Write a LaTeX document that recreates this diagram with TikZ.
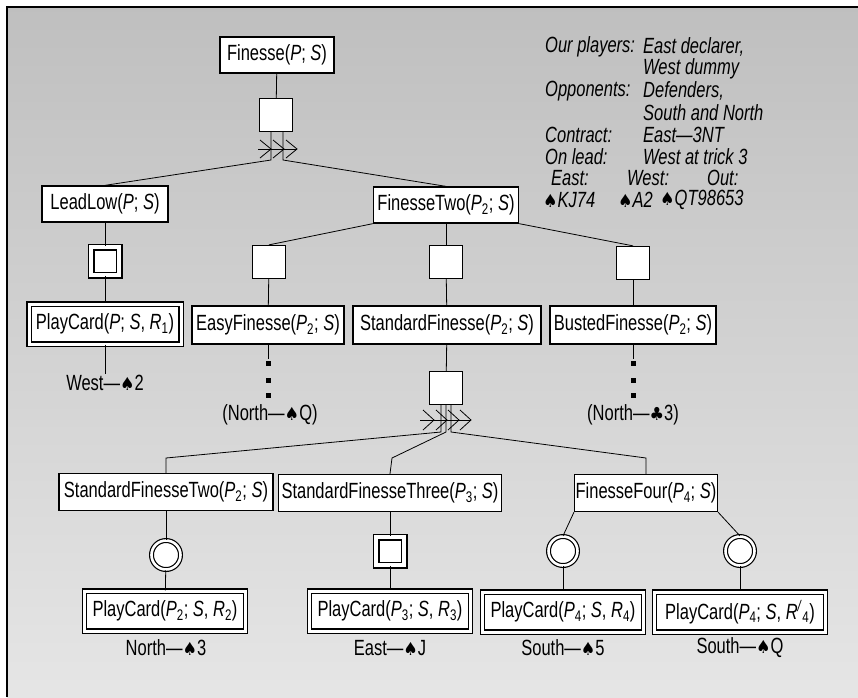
\documentclass[tikz,border=0pt]{standalone}
\usepackage{fontspec}
\setmainfont{Liberation Sans}[FakeStretch=0.75]
\newfontfamily\suitfont{DejaVu Sans}[FakeStretch=0.9]
\newcommand{\spd}{{\suitfont\fontsize{18}{20}\selectfont ♠}}
\newcommand{\clb}{{\suitfont\fontsize{18}{20}\selectfont ♣}}

\begin{document}
\begin{tikzpicture}[x=1pt,y=-1pt,
  font=\fontsize{22}{26}\selectfont,
  box/.style={draw,fill=white,line width=1.3pt,minimum height=36pt,inner xsep=1pt,inner ysep=0pt},
  card/.style={box,double=white,double distance=3pt,line width=1.2pt,minimum height=40pt},
  sqr/.style={draw,fill=white,line width=1.3pt,minimum size=33pt,inner sep=0pt},
  dsqr/.style={draw,fill=white,line width=1.5pt,double=white,double distance=4pt,minimum size=28pt,inner sep=0pt},
  dcirc/.style={circle,draw,fill=white,line width=1.2pt,double=white,double distance=2.6pt,minimum size=29pt,inner sep=0pt},
  lbl/.style={inner sep=1pt},
  info/.style={anchor=west,inner sep=0pt,font=\fontsize{22}{26}\selectfont\itshape},
  conn/.style={line width=0.8pt}]
\useasboundingbox (0,0) rectangle (858,697);
%draw background:
\shade[top color=black!25,bottom color=black!10] (7,7) rectangle (858,697);
\draw[line width=1.5pt] (7,697) -- (7,7) -- (858,7);
%draw top level:
\node[box,minimum width=114pt] (fin) at (277,55) {Finesse(\textit{P}; \textit{S})};
\node[sqr] (sq1) at (276,115) {};
\node[box,minimum width=126pt] (lead) at (105,204) {LeadLow(\textit{P}; \textit{S})};
\node[box,minimum width=145pt] (ftwo) at (446,205) {FinesseTwo(\textit{P}\textsubscript{2}; \textit{S})};
\draw[conn] (fin) -- (sq1);
\coordinate (t1) at (271,160);
\coordinate (t2) at (283,160);
\draw[conn] (t1 |- sq1.south) -- (t1) -- (lead.north);
\draw[conn] (t2 |- sq1.south) -- (t2) -- (ftwo.north);
\draw[conn] (258,149) -- (297,149);
\foreach \x in {271,284,297}
  \draw[conn] (\x-11,140) -- (\x,149) -- (\x-11,158);
%draw left branch:
\node[dsqr] (dsq1) at (105,261) {};
\node[card,minimum width=152pt] (pc1) at (105,324) {PlayCard(\textit{P}; \textit{S}, \textit{R}\textsubscript{1})};
\node[lbl] (west) at (105,383) {West—\spd 2};
\draw[conn] (lead) -- (dsq1);
\draw[conn] (dsq1) -- (pc1);
\draw[conn] (pc1) -- (west);
%draw FinesseTwo branch:
\node[sqr] (sqa) at (269,262) {};
\node[sqr] (sqb) at (446,262) {};
\node[sqr] (sqc) at (633,263) {};
\draw[conn] (ftwo.south west) -- (sqa.north);
\draw[conn] (ftwo.south) -- (sqb.north);
\draw[conn] (ftwo.south east) -- (sqc.north);
\node[box,minimum width=152pt,minimum height=38pt] (easy) at (268,325) {EasyFinesse(\textit{P}\textsubscript{2}; \textit{S})};
\node[box,minimum width=188pt,minimum height=38pt] (std) at (447,325) {StandardFinesse(\textit{P}\textsubscript{2}; \textit{S})};
\node[box,minimum width=166pt,minimum height=38pt] (bust) at (633,325) {BustedFinesse(\textit{P}\textsubscript{2}; \textit{S})};
\draw[conn] (sqa) -- (easy);
\draw[conn] (sqb) -- (std);
\draw[conn] (sqc) -- (bust);
\node[lbl] (nq) at (270,415) {(North—\spd Q)};
\node[lbl] (nc) at (633,415) {(North—\clb 3)};
\draw[thin] (easy.south) -- ++(0,14);
\draw[thin] (bust.south) -- ++(0,14);
\foreach \y in {19,36,51} {
  \fill[shift={(easy.south)}] (-2.5,\y-2.5) rectangle (2.5,\y+2.5);
  \fill[shift={(bust.south)}] (-2.5,\y-2.5) rectangle (2.5,\y+2.5);
}
%draw StandardFinesse branch:
\node[sqr] (sqd) at (446,388) {};
\draw[conn] (std) -- (sqd);
\node[box,minimum width=214pt,minimum height=37pt] (sf2) at (166,492) {StandardFinesseTwo(\textit{P}\textsubscript{2}; \textit{S})};
\node[box,minimum width=223pt,minimum height=37pt] (sf3) at (390,493) {StandardFinesseThree(\textit{P}\textsubscript{3}; \textit{S})};
\node[box,minimum width=140pt,minimum height=37pt] (f4) at (646,493) {FinesseFour(\textit{P}\textsubscript{4}; \textit{S})};
\coordinate (b1) at (441,432);
\coordinate (b2) at (446,432);
\coordinate (b3) at (451,432);
\coordinate (k1) at (166,458);
\coordinate (k2) at (392,458);
\coordinate (k3) at (646,458);
\draw[conn] (b1 |- sqd.south) -- (b1) -- (k1) -- (sf2.north);
\draw[conn] (b2 |- sqd.south) -- (b2) -- (k2) -- (sf3.north);
\draw[conn] (b3 |- sqd.south) -- (b3) -- (k3) -- (f4.north);
\draw[conn] (420,420) -- (471,420);
\foreach \x in {434,447,459,471}
  \draw[conn] (\x-11,410) -- (\x,420) -- (\x-11,430);
%draw bottom row:
\node[dcirc] (dc1) at (166,555) {};
\node[dsqr] (dsq2) at (390,551) {};
\node[dcirc] (dc2) at (563,551) {};
\node[dcirc] (dc3) at (740,551) {};
\draw[conn] (sf2) -- (dc1);
\draw[conn] (sf3) -- (dsq2);
\draw[conn] (f4.south west) -- (dc2.north);
\draw[conn] (f4.south east) -- (dc3.north);
\node[card,minimum width=161pt] (pc2) at (165,611) {PlayCard(\textit{P}\textsubscript{2}; \textit{S}, \textit{R}\textsubscript{2})};
\node[card,minimum width=161pt] (pc3) at (390,611) {PlayCard(\textit{P}\textsubscript{3}; \textit{S}, \textit{R}\textsubscript{3})};
\node[card,minimum width=161pt] (pc4) at (563,612) {PlayCard(\textit{P}\textsubscript{4}; \textit{S}, \textit{R}\textsubscript{4})};
\node[card,minimum width=171pt] (pc5) at (740,612) {PlayCard(\textit{P}\textsubscript{4}; \textit{S}, \textit{R}\textsuperscript{\textit{/}}\textsubscript{4})};
\draw[conn] (dc1) -- (pc2);
\draw[conn] (dsq2) -- (pc3);
\draw[conn] (dc2) -- (pc4);
\draw[conn] (dc3) -- (pc5);
\node[lbl] (n3) at (166,648) {North—\spd 3};
\node[lbl] (ej) at (390,648) {East—\spd J};
\node[lbl] (s5) at (563,648) {South—\spd 5};
\node[lbl] (sq) at (740,648) {South—\spd Q};
%draw info text:
\node[info] (pl) at (545,47) {Our players:};
\node[info] (pl2) at (643,47) {East declarer,};
\node[info] (pl3) at (643,69) {West dummy};
\node[info] (op) at (545,91) {Opponents:};
\node[info] (op2) at (643,91) {Defenders,};
\node[info] (op3) at (643,113) {South and North};
\node[info] (co) at (545,135) {Contract:};
\node[info] (co2) at (643,135) {East—3NT};
\node[info] (le) at (545,157) {On lead:};
\node[info] (le2) at (643,157) {West at trick 3};
\node[info] (he) at (551,178) {East:};
\node[info] (hw) at (627,178) {West:};
\node[info] (ho) at (707,178) {Out:};
\node[info] (ce) at (543,200) {\spd\textit{KJ74}};
\node[info] (cw) at (618,200) {\spd\textit{A2}};
\node[info] (co3) at (660,200) {\spd\textit{QT98653}};
\end{tikzpicture}
\end{document}
